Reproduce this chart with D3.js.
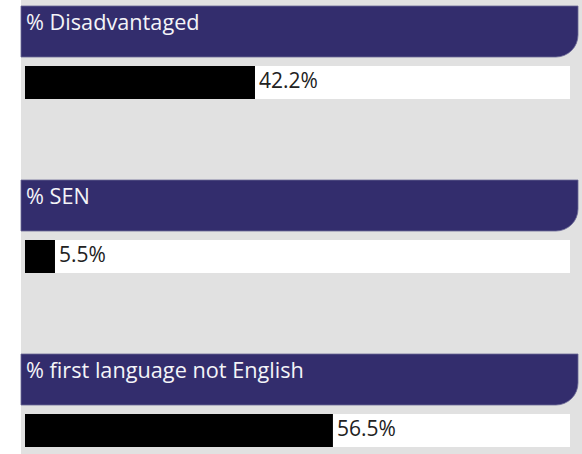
<!DOCTYPE html>
<html>
<head>
<meta charset="utf-8">
<script src="https://cdn.jsdelivr.net/npm/d3@7"></script>
<style>
  body { margin: 0; background: #fff; }
  svg { display: block; font-family: "Open Sans", "Noto Sans", sans-serif; }
</style>
</head>
<body>
<svg id="vis" width="582" height="454"></svg>
<script>
// chart data
var labels = ["% Disadvantaged", "% SEN", "% first language not English"];
var values = [42.2, 5.5, 56.5];
var valueLabels = ["42.2%", "5.5%", "56.5%"];

var svg = d3.select("#vis"),
    width = 582,
    height = 454;

// grey panel behind everything
svg.append("rect")
  .attr("x", 21).attr("y", 0)
  .attr("width", width - 21).attr("height", height)
  .attr("fill", "#e1e1e1");

var panel = d3.scaleBand().domain(labels).range([6, 6 + 174 * labels.length]);
var x = d3.scaleLinear().domain([0, 100]).range([25, 570]);

var hLeft = 21, hRight = 578, hHeight = 51, r = 22;
var barTop = 60, barH = 33;

function headerPath(y0)
{
  var y1 = y0 + hHeight;
  return "M" + hLeft + "," + y0 +
    "H" + hRight +
    "V" + (y1 - r) +
    "A" + r + "," + r + " 0 0 1 " + (hRight - r) + "," + y1 +
    "H" + hLeft + "Z";
}

var g = svg.selectAll("g.item")
  .data(labels.map(function(d, i) { return {label: d, value: values[i], text: valueLabels[i]}; }))
  .enter().append("g")
  .attr("class", "item")
  .attr("transform", function(d) { return "translate(0," + panel(d.label) + ")"; });

g.append("path")
  .attr("d", headerPath(0))
  .attr("fill", "#332d6d")
  .attr("stroke", "#6b6896")
  .attr("stroke-width", 0.8);

g.append("text")
  .attr("x", 26).attr("y", 24)
  .attr("fill", "#f4f4f8")
  .attr("font-size", "21.7px")
  .text(function(d) { return d.label; });

// white track
g.append("rect")
  .attr("x", x(0)).attr("y", barTop)
  .attr("width", x(100) - x(0)).attr("height", barH)
  .attr("fill", "#fff");

// value bar
g.append("rect")
  .attr("x", x(0)).attr("y", barTop)
  .attr("width", function(d) { return x(d.value) - x(0); })
  .attr("height", barH)
  .attr("fill", "#000");

g.append("text")
  .attr("x", function(d) { return x(d.value) + 4; })
  .attr("y", barTop + 22)
  .attr("fill", "#222")
  .attr("font-size", "21px")
  .text(function(d) { return d.text; });
</script>
</body>
</html>
